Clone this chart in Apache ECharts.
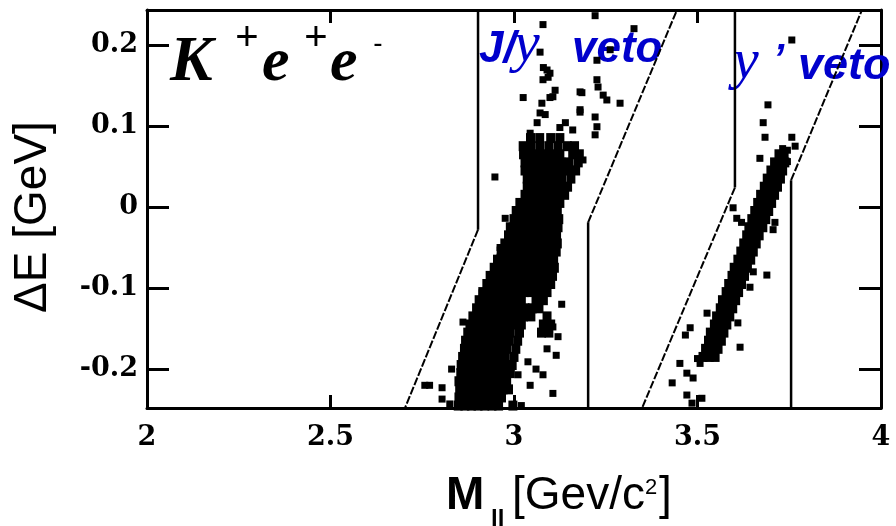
<!DOCTYPE html>
<html>
<head>
<meta charset="utf-8">
<script src="https://cdn.jsdelivr.net/npm/echarts@6/dist/echarts.min.js"></script>
<style>
  html, body { margin: 0; padding: 0; background: #ffffff; }
  #chart { width: 896px; height: 526px; }
</style>
</head>
<body>
<div id="chart"></div>
<script>
// Axis ranges and tick labels
const xRange = [2, 4];
const yRange = [-0.248, 0.243];
const xTicks = [2, 2.5, 3, 3.5, 4];
const yTicks = [-0.2, -0.1, 0, 0.1, 0.2];

// J/psi region: dense core, one row per Delta-E value with the M_ll positions of its candidates
const jpsiCoreRows = [
  [-0.245, [2.848, 2.866, 2.884, 2.902, 2.92, 2.94, 2.958, 2.997]],
  [-0.235, [2.85, 2.87, 2.89, 2.908, 2.928, 2.946, 2.966]],
  [-0.225, [2.852, 2.872, 2.89, 2.91, 2.93, 2.95, 2.97, 2.985]],
  [-0.215, [2.85, 2.868, 2.888, 2.906, 2.926, 2.944, 2.962, 2.98]],
  [-0.205, [2.855, 2.875, 2.895, 2.913, 2.932, 2.95, 2.97, 2.99]],
  [-0.195, [2.856, 2.876, 2.896, 2.916, 2.934, 2.954, 2.972, 2.995]],
  [-0.185, [2.86, 2.88, 2.9, 2.918, 2.938, 2.956, 2.976, 3.0]],
  [-0.175, [2.865, 2.884, 2.904, 2.922, 2.942, 2.96, 2.98, 3.005]],
  [-0.165, [2.868, 2.888, 2.908, 2.926, 2.946, 2.966, 2.986, 3.01]],
  [-0.155, [2.874, 2.894, 2.912, 2.932, 2.95, 2.97, 2.99, 3.015, 3.075, 3.095]],
  [-0.145, [2.88, 2.9, 2.918, 2.938, 2.956, 2.976, 2.996, 3.02, 3.08, 3.1]],
  [-0.135, [2.888, 2.906, 2.926, 2.944, 2.964, 2.984, 3.004, 3.026, 3.046, 3.09]],
  [-0.125, [2.898, 2.916, 2.934, 2.954, 2.972, 2.99, 3.01, 3.03, 3.05, 3.068]],
  [-0.115, [2.905, 2.924, 2.944, 2.962, 2.982, 3.0, 3.02, 3.06, 3.08]],
  [-0.105, [2.915, 2.934, 2.952, 2.972, 2.99, 3.01, 3.028, 3.048, 3.07, 3.09]],
  [-0.095, [2.926, 2.944, 2.962, 2.982, 3.0, 3.02, 3.04, 3.06, 3.08, 3.1]],
  [-0.085, [2.935, 2.954, 2.972, 2.99, 3.01, 3.03, 3.05, 3.07, 3.09, 3.105]],
  [-0.075, [2.946, 2.964, 2.982, 3.0, 3.02, 3.04, 3.058, 3.078, 3.098, 3.11]],
  [-0.065, [2.955, 2.974, 2.992, 3.01, 3.03, 3.048, 3.068, 3.088, 3.108]],
  [-0.055, [2.965, 2.984, 3.002, 3.02, 3.04, 3.058, 3.078, 3.098, 3.115]],
  [-0.045, [2.975, 2.994, 3.012, 3.03, 3.05, 3.068, 3.088, 3.106, 3.118]],
  [-0.035, [2.985, 3.004, 3.022, 3.04, 3.06, 3.078, 3.098, 3.116]],
  [-0.025, [2.99, 3.01, 3.028, 3.046, 3.066, 3.084, 3.104, 3.12]],
  [-0.015, [3.0, 3.018, 3.036, 3.055, 3.074, 3.092, 3.11, 3.122]],
  [-0.005, [3.006, 3.024, 3.042, 3.06, 3.08, 3.1, 3.118]],
  [0.005, [3.016, 3.034, 3.052, 3.07, 3.09, 3.108, 3.125]],
  [0.015, [3.03, 3.048, 3.066, 3.085, 3.104, 3.122, 3.138]],
  [0.025, [3.036, 3.054, 3.072, 3.09, 3.11, 3.128, 3.146]],
  [0.035, [3.036, 3.055, 3.074, 3.092, 3.11, 3.13, 3.155]],
  [0.045, [3.03, 3.05, 3.07, 3.09, 3.11, 3.13, 3.15, 3.168]],
  [0.055, [3.03, 3.05, 3.068, 3.088, 3.108, 3.128, 3.15, 3.175]],
  [0.065, [3.026, 3.045, 3.065, 3.085, 3.105, 3.125, 3.16, 3.178]],
  [0.075, [3.025, 3.045, 3.07, 3.095, 3.12, 3.145, 3.165]],
  [0.085, [3.045, 3.07, 3.1, 3.125]]
];

// J/psi region: isolated candidates [M_ll, Delta-E]
const jpsiScatter = [
  [3.221, 0.236], [3.079, 0.225], [3.327, 0.22], [3.071, 0.191], [3.262, 0.194], [3.226, 0.181],
  [3.09, 0.169], [3.08, 0.172], [3.098, 0.165], [3.093, 0.16], [3.079, 0.157], [3.226, 0.157],
  [3.229, 0.148], [3.025, 0.135], [3.112, 0.144], [3.098, 0.135], [3.106, 0.136], [3.18, 0.142],
  [3.243, 0.138], [3.289, 0.128], [3.253, 0.132], [3.185, 0.141], [3.221, 0.111], [3.226, 0.099],
  [3.18, 0.12], [3.221, 0.089], [3.076, 0.128], [3.071, 0.116], [3.085, 0.114], [3.18, 0.117],
  [3.063, 0.104], [3.125, 0.098], [3.16, 0.095], [3.044, 0.091], [3.14, 0.104], [2.948, 0.037],
  [3.188, 0.058], [2.976, -0.014], [2.962, -0.05], [2.962, -0.062], [2.913, -0.106], [2.861, -0.142],
  [2.757, -0.22], [2.77, -0.22], [2.804, -0.223], [2.804, -0.237], [2.825, -0.243], [3.106, -0.23],
  [3.079, -0.207], [3.038, -0.191], [3.011, -0.207], [3.044, -0.22], [3.12, -0.16], [3.106, -0.148],
  [3.09, -0.175], [3.115, -0.183], [3.06, -0.2], [3.13, -0.12], [2.83, -0.2], [3.02, -0.245]
];

// psi(2S) region: dense core rows
const psi2CoreRows = [
  [-0.185, [3.515, 3.532, 3.548]],
  [-0.175, [3.522, 3.54, 3.556]],
  [-0.165, [3.53, 3.548, 3.565]],
  [-0.155, [3.535, 3.553, 3.572]],
  [-0.145, [3.546, 3.563, 3.58]],
  [-0.135, [3.552, 3.57, 3.588]],
  [-0.125, [3.562, 3.58, 3.596]],
  [-0.115, [3.568, 3.586, 3.604]],
  [-0.105, [3.578, 3.595, 3.612]],
  [-0.095, [3.585, 3.603, 3.62]],
  [-0.085, [3.594, 3.612, 3.628]],
  [-0.075, [3.6, 3.62, 3.636]],
  [-0.065, [3.61, 3.628, 3.645]],
  [-0.055, [3.618, 3.636, 3.652]],
  [-0.045, [3.626, 3.644, 3.66]],
  [-0.035, [3.634, 3.652, 3.668]],
  [-0.025, [3.64, 3.66, 3.678]],
  [-0.015, [3.648, 3.668, 3.686]],
  [-0.005, [3.656, 3.676, 3.694]],
  [0.005, [3.664, 3.684, 3.702]],
  [0.015, [3.672, 3.692, 3.71]],
  [0.025, [3.682, 3.7, 3.718]],
  [0.035, [3.69, 3.708, 3.726]],
  [0.045, [3.7, 3.716, 3.732]],
  [0.055, [3.71, 3.726, 3.738]],
  [0.065, [3.722, 3.736]]
];

// psi(2S) region: isolated candidates
const psi2Scatter = [
  [3.692, 0.126], [3.679, 0.104], [3.684, 0.086], [3.757, 0.086], [3.766, 0.075], [3.67, 0.06],
  [3.745, 0.056], [3.757, 0.206], [3.597, -0.001], [3.607, -0.014], [3.62, -0.019], [3.711, -0.019],
  [3.706, -0.028], [3.689, -0.084], [3.643, -0.099], [3.652, -0.08], [3.61, -0.143], [3.616, -0.173],
  [3.526, -0.131], [3.48, -0.149], [3.467, -0.158], [3.485, -0.242], [3.512, -0.236], [3.471, -0.232],
  [3.431, -0.217], [3.488, -0.211], [3.471, -0.205], [3.452, -0.193], [3.507, -0.193], [3.5, -0.187],
  [3.732, 0.072], [3.745, 0.07]
];

// Veto boundaries: each is [end of vertical edge, kink, end of slanted edge]
const jpsiVetoLow = [[2.902, 0.243], [2.902, -0.028], [2.703, -0.248]];
const jpsiVetoHigh = [[3.202, -0.248], [3.202, -0.019], [3.444, 0.243]];
const psi2VetoLow = [[3.602, 0.243], [3.602, 0.024], [3.349, -0.248]];
const psi2VetoHigh = [[3.755, -0.248], [3.755, 0.033], [3.948, 0.243]];

const expand = rows => rows.flatMap(([de, ms]) => ms.map(m => [m, de]));

const labelFont = { fontFamily: 'DejaVu Serif', fontWeight: 'bold', fontSize: 27, color: '#000' };
const frameLine = { show: true, onZero: false, lineStyle: { color: '#000', width: 3 } };
const markStyle = { color: '#000', opacity: 1, borderWidth: 0 };

function vetoSeries(points) {
  return [
    {
      type: 'line', data: points.slice(0, 2), showSymbol: false, silent: true,
      lineStyle: { color: '#000', width: 2.5, opacity: 1 }, z: 3
    },
    {
      type: 'line', data: points.slice(1, 3), showSymbol: false, silent: true,
      lineStyle: { color: '#000', width: 2, type: [8, 2], opacity: 1 }, z: 3
    }
  ];
}

function candidates(name, data, size) {
  return {
    name, type: 'scatter', data, symbol: 'rect', symbolSize: size,
    itemStyle: markStyle, emphasis: { disabled: true }, silent: true, z: 4
  };
}

const chart = echarts.init(document.getElementById('chart'), null, { renderer: 'canvas' });

const blue = '#0000cc';
const option = {
  animation: false,
  backgroundColor: '#ffffff',
  grid: { left: 147, right: 15, top: 10, bottom: 118, containLabel: false },
  xAxis: [
    {
      type: 'value', min: xRange[0], max: xRange[1], interval: 0.5, position: 'bottom',
      axisLine: frameLine,
      axisTick: { inside: true, length: 13, lineStyle: { color: '#000', width: 3 } },
      axisLabel: Object.assign({ margin: 16, customValues: xTicks, formatter: v => String(v) }, labelFont),
      splitLine: { show: false }
    },
    {
      type: 'value', min: xRange[0], max: xRange[1], interval: 0.5, position: 'top',
      axisLine: frameLine,
      axisTick: { inside: true, length: 13, lineStyle: { color: '#000', width: 3 } },
      axisLabel: { show: false },
      splitLine: { show: false }
    }
  ],
  yAxis: [
    {
      type: 'value', min: yRange[0], max: yRange[1], position: 'left',
      axisLine: frameLine,
      axisTick: { inside: true, length: 22, customValues: yTicks, lineStyle: { color: '#000', width: 3 } },
      axisLabel: Object.assign({
        margin: 9, customValues: yTicks,
        formatter: v => (Math.abs(v) < 1e-9 ? '0' : v.toFixed(1))
      }, labelFont),
      splitLine: { show: false }
    },
    {
      type: 'value', min: yRange[0], max: yRange[1], position: 'right',
      axisLine: frameLine,
      axisTick: { inside: true, length: 22, customValues: yTicks, lineStyle: { color: '#000', width: 3 } },
      axisLabel: { show: false, customValues: yTicks },
      splitLine: { show: false }
    }
  ],
  series: [
    candidates('J/psi core', expand(jpsiCoreRows), [9, 10]),
    candidates('J/psi sparse', jpsiScatter, 7),
    candidates('psi2S core', expand(psi2CoreRows), [9, 10]),
    candidates('psi2S sparse', psi2Scatter, 7),
    ...vetoSeries(jpsiVetoLow),
    ...vetoSeries(jpsiVetoHigh),
    ...vetoSeries(psi2VetoLow),
    ...vetoSeries(psi2VetoHigh)
  ],
  graphic: [
    // decay channel label
    { type: 'text', x: 170, y: 63, z: 1, style: { text: 'K', font: 'italic bold 64px "Liberation Serif"', fill: '#000', verticalAlign: 'middle' } },
    { type: 'text', x: 247, y: 39, z: 1, style: { text: '+', font: '40px "Liberation Sans"', fill: '#000', align: 'center', verticalAlign: 'middle' } },
    { type: 'text', x: 262, y: 64, z: 1, style: { text: 'e', font: 'italic bold 62px "Liberation Serif"', fill: '#000', verticalAlign: 'middle' } },
    { type: 'text', x: 316, y: 39, z: 1, style: { text: '+', font: '40px "Liberation Sans"', fill: '#000', align: 'center', verticalAlign: 'middle' } },
    { type: 'text', x: 330, y: 64, z: 1, style: { text: 'e', font: 'italic bold 62px "Liberation Serif"', fill: '#000', verticalAlign: 'middle' } },
    { type: 'text', x: 378, y: 44, z: 1, style: { text: '-', font: '28px "Liberation Sans"', fill: '#000', align: 'center', verticalAlign: 'middle' } },
    // J/psi veto label
    { type: 'text', x: 479, y: 50, z: 1, style: { text: 'J/', font: 'italic bold 44px "Liberation Sans"', fill: blue, verticalAlign: 'middle' } },
    { type: 'text', x: 514, y: 46, z: 1, style: { text: 'y', font: 'italic 58px "Liberation Serif"', fill: blue, verticalAlign: 'middle' } },
    { type: 'text', x: 572, y: 50, z: 1, style: { text: 'veto', font: 'italic bold 44px "Liberation Sans"', fill: blue, verticalAlign: 'middle' } },
    // psi(2S) veto label
    { type: 'text', x: 733, y: 63, z: 1, style: { text: 'y', font: 'italic 58px "Liberation Serif"', fill: blue, verticalAlign: 'middle' } },
    { type: 'text', x: 773, y: 61, z: 1, style: { text: '\u2019', font: 'italic bold 40px "Liberation Sans"', fill: blue, verticalAlign: 'middle' } },
    { type: 'text', x: 798, y: 67, z: 1, style: { text: 'veto', font: 'italic bold 45px "Liberation Sans"', fill: blue, verticalAlign: 'middle' } },
    // axis titles
    { type: 'text', x: 33, y: 217, rotation: Math.PI / 2, z: 1, style: { text: '\u0394E [GeV]', font: '46px "Liberation Sans"', fill: '#000', align: 'center', verticalAlign: 'middle' } },
    { type: 'text', x: 446, y: 496, z: 1, style: { text: 'M', font: 'bold 46px "Liberation Sans"', fill: '#000', verticalAlign: 'middle' } },
    { type: 'text', x: 491, y: 520, z: 1, style: { text: 'll', font: 'bold 24px "Liberation Sans"', fill: '#000', verticalAlign: 'middle' } },
    { type: 'text', x: 512, y: 496, z: 1, style: { text: '[Gev/c', font: '46px "Liberation Sans"', fill: '#000', verticalAlign: 'middle' } },
    { type: 'text', x: 645, y: 488, z: 1, style: { text: '2', font: '22px "Liberation Sans"', fill: '#000', verticalAlign: 'middle' } },
    { type: 'text', x: 659, y: 496, z: 1, style: { text: ']', font: '46px "Liberation Sans"', fill: '#000', verticalAlign: 'middle' } }
  ]
};

chart.setOption(option);
</script>
</body>
</html>
